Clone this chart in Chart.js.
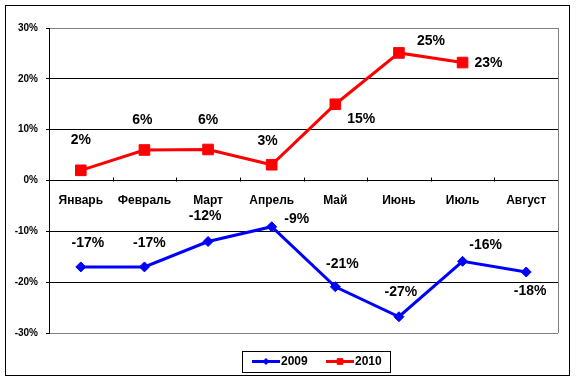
<!DOCTYPE html>
<html>
<head>
<meta charset="utf-8">
<script src="https://cdn.jsdelivr.net/npm/chart.js@4.4.1/dist/chart.umd.min.js"></script>
<style>
  html, body { margin: 0; padding: 0; background: #fff; }
</style>
</head>
<body>
<canvas id="grafico" width="577" height="382"></canvas>
<script>
const meses = ["Январь", "Февраль", "Март", "Апрель", "Май", "Июнь", "Июль", "Август"];
const valores2009 = [-17, -17, -12, -9.1, -20.9, -26.8, -15.9, -18];
const valores2010 = [2, 6, 6.1, 3.1, 15, 25.1, 23.2, null];
const limitesY = [-30, 30];
const passoY = 10;

// onde fica cada rótulo em relação ao ponto (dx, dy)
const desloc2009 = [[7, -24], [5, -24], [-3, -25], [25, -8], [7, -23], [2, -25], [23, -16], [4, 19]];
const desloc2010 = [[0, -30], [-2, -30], [0, -29], [-4, -24], [26, 15], [32, -12], [26, 1]];

const fonte = "Arial, 'Liberation Sans', sans-serif";

const pluginMoldura = {
  id: "moldura",
  beforeDraw(chart) {
    const c = chart.ctx;
    c.save();
    c.fillStyle = "#fff";
    c.fillRect(0, 0, chart.width, chart.height);
    c.strokeStyle = "#000";
    c.lineWidth = 1;
    c.strokeRect(5.5, 5.5, 564, 370);
    c.restore();
  },
  beforeDatasetsDraw(chart) {
    const c = chart.ctx;
    const area = chart.chartArea;
    const x = chart.scales.x;
    const y0 = Math.round(chart.scales.y.getPixelForValue(0)) + 0.5;
    c.save();
    // borda direita cinza
    c.strokeStyle = "#808080";
    c.beginPath();
    c.moveTo(Math.round(area.right) + 0.5, area.top);
    c.lineTo(Math.round(area.right) + 0.5, area.bottom);
    c.stroke();
    // marcas entre categorias
    c.strokeStyle = "#000";
    c.beginPath();
    for (let i = 1; i < meses.length; i++) {
      const px = Math.round((x.getPixelForValue(i - 1) + x.getPixelForValue(i)) / 2) + 0.5;
      c.moveTo(px, y0 - 4);
      c.lineTo(px, y0);
    }
    c.stroke();
    c.restore();
  },
  afterDatasetsDraw(chart) {
    const c = chart.ctx;
    c.save();
    c.font = "bold 14px " + fonte;
    c.fillStyle = "#000";
    c.textAlign = "center";
    c.textBaseline = "middle";
    const desloc = [desloc2009, desloc2010];
    chart.data.datasets.forEach((ds, d) => {
      const meta = chart.getDatasetMeta(d);
      ds.data.forEach((v, i) => {
        if (v === null) return;
        const p = meta.data[i];
        const [dx, dy] = desloc[d][i];
        c.fillText(Math.round(v) + "%", p.x + dx, p.y + dy);
      });
    });

    // legenda
    c.strokeStyle = "#000";
    c.lineWidth = 1;
    c.strokeRect(242.5, 351.5, 148, 21);
    c.font = "bold 12px " + fonte;
    c.textAlign = "left";
    const inicio = [252, 326];
    const raios = [3, 4];
    chart.data.datasets.forEach((ds, d) => {
      const lx = inicio[d];
      const ly = 361.5;
      c.strokeStyle = ds.borderColor;
      c.lineWidth = 3;
      c.beginPath();
      c.moveTo(lx, ly);
      c.lineTo(lx + 28, ly);
      c.stroke();
      c.fillStyle = ds.borderColor;
      c.lineWidth = 1;
      Chart.helpers.drawPoint(c, { pointStyle: ds.pointStyle, radius: raios[d], borderWidth: 1 }, lx + 14, ly);
      c.fillStyle = "#000";
      c.fillText(ds.label, lx + 29, ly);
    });
    c.restore();
  }
};

const ctx = document.getElementById("grafico").getContext("2d");

new Chart(ctx, {
  type: "line",
  data: {
    labels: meses,
    datasets: [
      {
        label: "2009",
        data: valores2009,
        borderColor: "#0000FF",
        backgroundColor: "#0000FF",
        borderWidth: 3,
        pointStyle: "rectRot",
        pointRadius: 5,
        pointBorderWidth: 1,
        tension: 0
      },
      {
        label: "2010",
        data: valores2010,
        borderColor: "#FF0000",
        backgroundColor: "#FF0000",
        borderWidth: 3,
        pointStyle: "rect",
        pointRadius: 7.5,
        pointBorderWidth: 1,
        tension: 0
      }
    ]
  },
  options: {
    responsive: false,
    animation: false,
    layout: { padding: { left: 0, top: 28, right: 19, bottom: 49 } },
    plugins: {
      legend: { display: false },
      tooltip: { enabled: false }
    },
    scales: {
      y: {
        min: limitesY[0],
        max: limitesY[1],
        afterFit(scale) { scale.width = 49; },
        ticks: {
          stepSize: passoY,
          padding: 8,
          color: "#000",
          font: { family: fonte, size: 10, weight: "bold" },
          callback: v => v + "%"
        },
        grid: {
          color: c => (Math.abs(c.tick.value) === 30 ? "#808080" : "#000"),
          tickColor: "#000",
          tickLength: 3,
          lineWidth: 1
        },
        border: { color: "#000", width: 1 }
      },
      x: {
        type: "category",
        position: { y: 0 },
        offset: true,
        afterFit(scale) { scale.height = 0; },
        ticks: {
          padding: 13,
          color: "#000",
          font: { family: fonte, size: 12, weight: "bold" }
        },
        grid: { display: true, drawOnChartArea: false, drawTicks: false },
        border: { color: "#000", width: 1 }
      }
    }
  },
  plugins: [pluginMoldura]
});
</script>
</body>
</html>
